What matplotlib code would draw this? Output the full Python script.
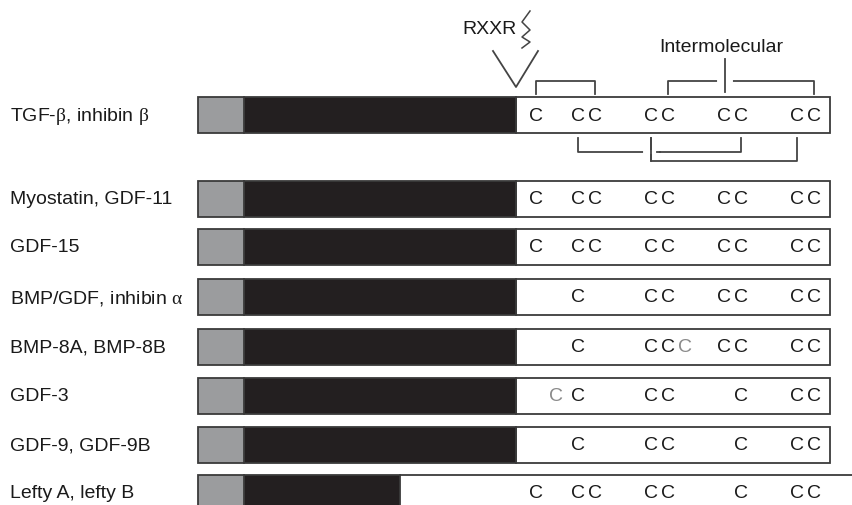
import matplotlib
matplotlib.use("Agg")
import matplotlib.pyplot as plt
from matplotlib.patches import Rectangle

plt.rcParams["font.family"] = ["Liberation Sans", "DejaVu Sans"]
plt.rcParams["mathtext.fontset"] = "custom"
plt.rcParams["mathtext.rm"] = "Liberation Serif"
plt.rcParams["mathtext.it"] = "Liberation Serif"

# TGF-beta superfamily members and their cysteine knot patterns
families = [
    r"TGF-$\beta$, inhibin $\beta$",
    "Myostatin, GDF-11",
    "GDF-15",
    r"BMP/GDF, inhibin $\alpha$",
    "BMP-8A, BMP-8B",
    "GDF-3",
    "GDF-9, GDF-9B",
    "Lefty A, lefty B",
]
# one character per cysteine slot: C = conserved, g = extra (grey), . = absent
cys_patterns = [
    "C.CCCC.CCCC",
    "C.CCCC.CCCC",
    "C.CCCC.CCCC",
    "..C.CC.CCCC",
    "..C.CCgCCCC",
    ".gC.CC..CCC",
    "..C.CC..CCC",
    "C.CCCC..CCC",
]
# residue slot positions along the precursor (drawing units)
cys_slots = [536, 556, 578, 595, 651, 668, 685, 724, 741, 797, 814]
# domain boundaries: signal peptide, prodomain, mature domain
signal_start, signal_end = 198, 244
pro_end = [516, 516, 516, 516, 516, 516, 516, 400]
mature_end = 830
# disulfide bridges as pairs of slot indices
bridges_top = [(0, 3), (5, 10)]
intermolecular_slot = 7
bridges_bottom = [(2, 8), (4, 9)]

W, H = 853, 506
fig = plt.figure(figsize=(W / 100, H / 100), dpi=100)
ax = fig.add_axes([0, 0, 1, 1])
ax.set_xlim(0, W)
ax.set_ylim(H, 0)
ax.axis("off")

row_top = [98, 182, 230, 280, 330, 379, 428, 476]
bar_h = 36
edge = "#3a3a3a"
lw = 1.3
fs = 14

for i, (name, pat) in enumerate(zip(families, cys_patterns)):
    y0 = row_top[i]
    yc = y0 + bar_h / 2
    ax.text(10, yc, name, fontsize=fs, va="center", ha="left", color="#1a1a1a")
    if i < len(families) - 1:
        ax.add_patch(Rectangle((pro_end[i], y0), mature_end - pro_end[i], bar_h,
                               facecolor="white", edgecolor=edge, lw=lw))
    else:
        ax.plot([pro_end[i], W], [y0, y0], color=edge, lw=lw)
    ax.add_patch(Rectangle((signal_end, y0), pro_end[i] - signal_end, bar_h,
                           facecolor="#231f20", edgecolor=edge, lw=lw))
    ax.add_patch(Rectangle((signal_start, y0), signal_end - signal_start, bar_h,
                           facecolor="#9b9c9e", edgecolor=edge, lw=lw, zorder=3))
    for ch, x in zip(pat, cys_slots):
        if ch == ".":
            continue
        col = "#8a8a8a" if ch == "g" else "#1a1a1a"
        ax.text(x, yc, "C", fontsize=fs, ha="center", va="center", color=col)

# intrachain disulfide brackets above the first row
line_col = "#444444"
top_y, top_drop = 82, 95
for a, b in bridges_top:
    xa, xb = cys_slots[a], cys_slots[b]
    ax.plot([xa, xa, xb, xb], [top_drop, top_y, top_y, top_drop], color=line_col, lw=lw)
# stem for the intermolecular bond, with a small break in the bracket
xs = cys_slots[intermolecular_slot] + 1
ax.plot([xs - 6, xs + 6], [top_y, top_y], color="white", lw=lw + 1.5, zorder=4)
ax.plot([xs, xs], [60, 93], color=line_col, lw=lw, zorder=5)
ax.text(xs - 4, 47, "Intermolecular", fontsize=fs, ha="center", va="center", color="#1a1a1a")

# brackets below the first row
bot_top = 139
bot_levels = [153, 162]
for (a, b), yb in zip(bridges_bottom, bot_levels):
    xa, xb = cys_slots[a], cys_slots[b]
    ax.plot([xa, xa, xb, xb], [bot_top, yb, yb, bot_top], color=line_col, lw=lw, zorder=4)
# break where the second bracket crosses the first
xc = cys_slots[bridges_bottom[1][0]]
ax.plot([xc - 6, xc + 6], [bot_levels[0], bot_levels[0]], color="white", lw=lw + 1.5, zorder=5)
ax.plot([xc, xc], [bot_top, bot_levels[1]], color=line_col, lw=lw, zorder=6)
ax.plot([xc + 6, xc + 9], [bot_levels[0], bot_levels[0]], color=line_col, lw=lw, zorder=6)

# furin cleavage site
ax.plot([493, 516, 538], [52, 88, 52], color=line_col, lw=lw)
ax.text(517, 29, "RXXR", fontsize=fs, ha="right", va="center", color="#1a1a1a")
ax.plot([530, 522, 530, 522, 530, 522], [12, 23, 31, 38, 43, 49], color=line_col, lw=1.1)

fig.savefig("out.png", dpi=100)
